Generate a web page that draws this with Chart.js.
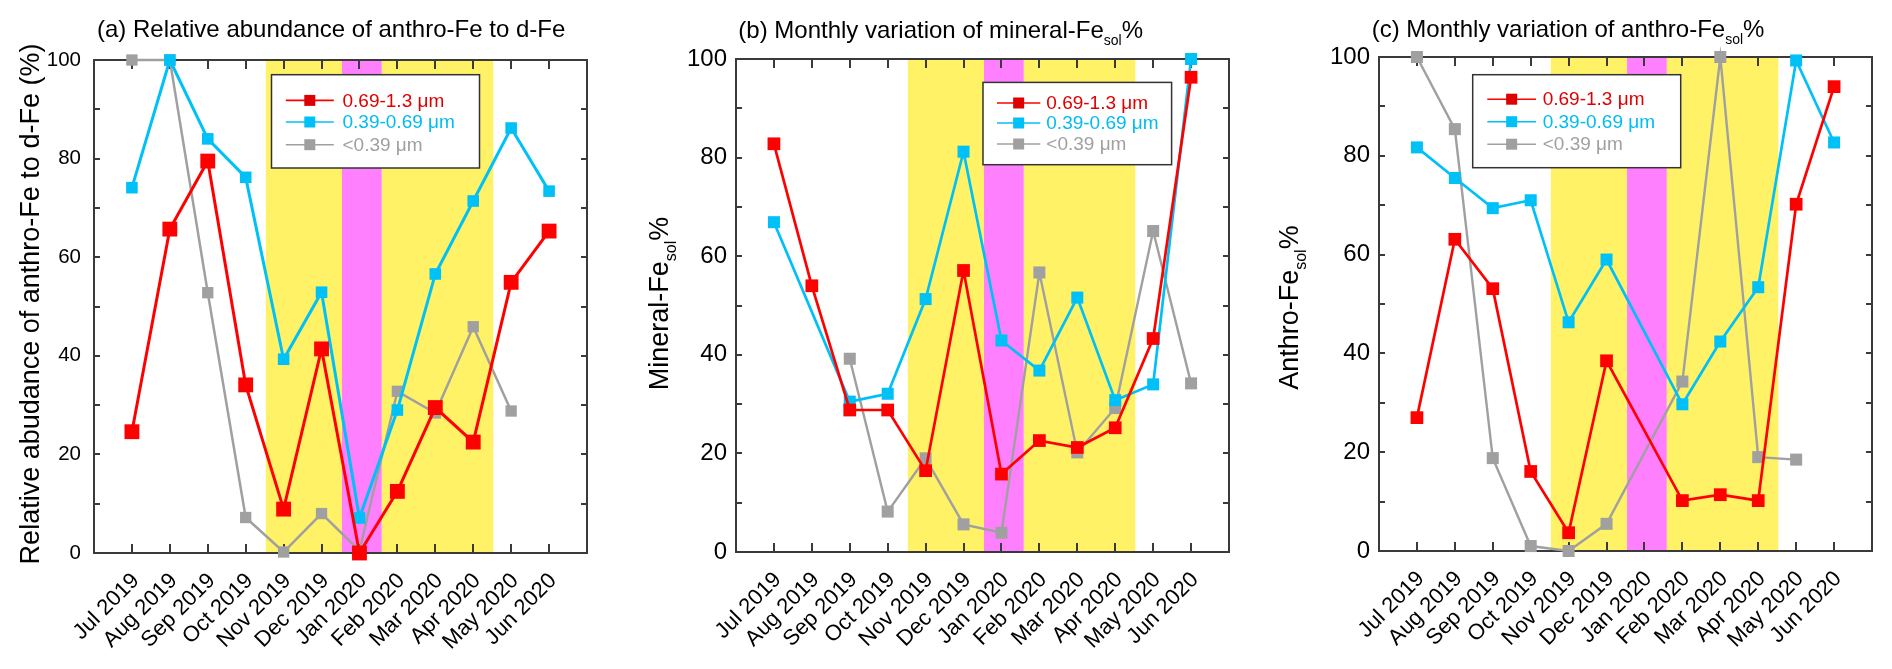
<!DOCTYPE html>
<html>
<head>
<meta charset="utf-8">
<script src="https://cdn.jsdelivr.net/npm/chart.js@4.4.1/dist/chart.umd.min.js"></script>
<style>
  html, body { margin: 0; padding: 0; background: #fff; }
  #wrap { position: relative; width: 1892px; height: 669px; }
  canvas { position: absolute; top: 0; }
</style>
</head>
<body>
<div id="wrap">
  <canvas id="chartA" width="631" height="669" style="left:0px"></canvas>
  <canvas id="chartB" width="631" height="669" style="left:631px"></canvas>
  <canvas id="chartC" width="630" height="669" style="left:1262px"></canvas>
</div>
<script>
const MONTHS = ["Jul 2019", "Aug 2019", "Sep 2019", "Oct 2019", "Nov 2019", "Dec 2019",
  "Jan 2020", "Feb 2020", "Mar 2020", "Apr 2020", "May 2020", "Jun 2020"];
const SIZE_LABELS = ["0.69-1.3 μm", "0.39-0.69 μm", "<0.39 μm"];
const Y_TICK_LABEL_STEP = 20;

// (a) relative abundance of anthro-Fe to d-Fe (%)
const A_COARSE = [24.6, 65.7, 79.5, 34.1, 8.9, 41.4, 0, 12.5, 29.5, 22.5, 54.9, 65.3];
const A_MID = [74.1, 100, 84.0, 76.2, 39.3, 52.9, 7.1, 29.0, 56.6, 71.4, 86.2, 73.4];
const A_FINE = [100, 100, 52.8, 7.2, 0.2, 8.0, 0.5, 32.8, 28.4, 45.9, 28.8, null];

// (b) mineral-Fe_sol %
const B_COARSE = [82.8, 54.0, 28.8, 28.8, 16.5, 57.1, 15.8, 22.6, 21.2, 25.2, 43.3, 96.3];
const B_MID = [66.9, null, 30.5, 32.1, 51.3, 81.2, 42.9, 36.8, 51.6, 30.8, 34.0, 100];
const B_FINE = [null, null, 39.2, 8.2, 19.0, 5.6, 3.9, 56.7, 20.2, 29.2, 65.1, 34.2];

// (c) anthro-Fe_sol %
const C_COARSE = [27.0, 63.1, 53.1, 16.1, 3.7, 38.5, null, 10.2, 11.4, 10.2, 70.2, 94.0];
const C_MID = [81.7, 75.5, 69.4, 71.0, 46.3, 59.0, null, 29.7, 42.4, 53.4, 99.3, 82.7];
const C_FINE = [100, 85.4, 18.8, 1.0, 0, 5.5, null, 34.3, 100, 19.0, 18.5, null];

// shaded periods, in month-axis units (Jul 2019 = 1)
const BAND_EDGES = [4.53, 6.54, 7.59, 10.53];

const FONT = "'Liberation Sans', Arial, sans-serif";
const FRAME = "#3a3a3a";
const RED = "#ff0000", CYAN = "#00c0f8", GRAY = "#a0a0a0";
const YELLOW = "#fff266", MAGENTA = "#ff80ff";
const LEGEND_TEXT = ["#e00000", "#00bcf2", "#a0a0a0"];
const LEGEND_MARK = ["#dd0000", "#00c0f8", "#a0a0a0"];

function drawRich(ctx, parts, x, y, size, align) {
  const fontOf = (p) => `${p.sub ? Math.round(size * 0.6) : size}px ${FONT}`;
  let total = 0;
  parts.forEach((p) => { ctx.font = fontOf(p); total += ctx.measureText(p.t).width; });
  let cx = align === "center" ? x - total / 2 : x;
  parts.forEach((p) => {
    ctx.font = fontOf(p);
    ctx.fillText(p.t, cx, y + (p.sub ? size * 0.3 : 0));
    cx += ctx.measureText(p.t).width;
  });
}

const panelDecor = {
  id: "panelDecor",
  beforeDraw(chart, args, opts) {
    const { ctx, chartArea: { top, bottom }, scales: { x } } = chart;
    const colors = [YELLOW, MAGENTA, YELLOW];
    ctx.save();
    for (let i = 0; i < BAND_EDGES.length - 1; i++) {
      const x0 = x.getPixelForValue(BAND_EDGES[i]);
      const x1 = x.getPixelForValue(BAND_EDGES[i + 1]);
      ctx.fillStyle = colors[i];
      ctx.fillRect(x0, top, x1 - x0, bottom - top);
    }
    ctx.restore();
  },
  afterDraw(chart, args, opts) {
    const { ctx, chartArea: area } = chart;
    ctx.save();
    ctx.fillStyle = "#000";
    ctx.textBaseline = "alphabetic";
    // panel title
    drawRich(ctx, opts.title, opts.titleX, opts.titleY, 24, "left");
    // rotated y title
    ctx.save();
    ctx.translate(opts.yTitleX, opts.yTitleY);
    ctx.rotate(-Math.PI / 2);
    drawRich(ctx, opts.yTitle, 0, 0, 27, "center");
    ctx.restore();

    // legend box
    const lg = opts.legend;
    const bx = area.left + lg.x, by = area.top + lg.y;
    ctx.fillStyle = "#fff";
    ctx.fillRect(bx, by, lg.w, lg.h);
    ctx.strokeStyle = "#333";
    ctx.lineWidth = 1.5;
    ctx.strokeRect(bx, by, lg.w, lg.h);
    chart.data.datasets.forEach((ds, i) => {
      const ry = by + lg.rows[i];
      ctx.strokeStyle = ds.borderColor;
      ctx.lineWidth = 1.6;
      ctx.beginPath();
      ctx.moveTo(bx + lg.line0, ry);
      ctx.lineTo(bx + lg.line1, ry);
      ctx.stroke();
      ctx.fillStyle = LEGEND_MARK[i];
      const m = (lg.line0 + lg.line1) / 2;
      ctx.fillRect(bx + m - 5.5, ry - 5.5, 11, 11);
      ctx.fillStyle = LEGEND_TEXT[i];
      ctx.font = `19px ${FONT}`;
      ctx.textBaseline = "middle";
      ctx.fillText(ds.label, bx + lg.text, ry + 1);
    });
    ctx.restore();
  }
};

function xAxis(cfg, pos) {
  const bottom = pos === "bottom";
  return {
    type: "linear", position: pos, min: 0, max: MONTHS.length + 1,
    afterBuildTicks: (s) => { s.ticks = MONTHS.map((m, i) => ({ value: i + 1 })); },
    afterFit: (s) => { s.height = bottom ? cfg.xAxisHeight : 0; },
    grid: { drawOnChartArea: false, color: FRAME, lineWidth: 2, tickLength: -9 },
    border: { display: true, color: FRAME, width: 2 },
    ticks: bottom ? {
      autoSkip: false, minRotation: 45, maxRotation: 45,
      padding: cfg.xPad, labelOffset: cfg.xOffset, color: "#000",
      font: { family: FONT, size: cfg.xFont },
      callback: (v) => MONTHS[v - 1] ?? ""
    } : { display: false }
  };
}

function yAxis(cfg, pos) {
  const left = pos === "left";
  return {
    type: "linear", position: pos, min: 0, max: 100,
    afterFit: (s) => { s.width = left ? cfg.yAxisWidth : 0; },
    grid: { drawOnChartArea: false, color: FRAME, lineWidth: 2, tickLength: -6 },
    border: { display: true, color: FRAME, width: 2 },
    ticks: left ? {
      stepSize: 10, padding: cfg.yPad, color: "#000",
      font: { family: FONT, size: cfg.yFont },
      callback: (v) => (v % Y_TICK_LABEL_STEP === 0 ? String(v) : "")
    } : { stepSize: 10, display: false }
  };
}

function series(label, values, color, radius, width) {
  return {
    label, data: values.map((v, i) => ({ x: i + 1, y: v })),
    borderColor: color, backgroundColor: color,
    pointBackgroundColor: color, pointBorderWidth: 0,
    pointStyle: "rect", pointRadius: radius, borderWidth: width,
    spanGaps: true, clip: false, tension: 0
  };
}

function makePanel(id, cfg) {
  const canvas = document.getElementById(id);
  return new Chart(canvas, {
    type: "line",
    data: {
      datasets: [
        series(SIZE_LABELS[0], cfg.values[0], RED, cfg.radius[0], cfg.width[0]),
        series(SIZE_LABELS[1], cfg.values[1], CYAN, cfg.radius[1], cfg.width[1]),
        series(SIZE_LABELS[2], cfg.values[2], GRAY, cfg.radius[2], cfg.width[2])
      ]
    },
    options: {
      responsive: false,
      animation: false,
      layout: { padding: { left: 0, top: cfg.top, right: cfg.right, bottom: 0 } },
      scales: {
        x: xAxis(cfg, "bottom"),
        x2: xAxis(cfg, "top"),
        y: yAxis(cfg, "left"),
        y2: yAxis(cfg, "right")
      },
      plugins: {
        legend: { display: false },
        tooltip: { enabled: false },
        panelDecor: cfg.decor
      }
    },
    plugins: [panelDecor]
  });
}

makePanel("chartA", {
  values: [A_COARSE, A_MID, A_FINE],
  radius: [10.5, 8.2, 8], width: [3, 3, 2.5],
  top: 60, right: 44, xAxisHeight: 116, yAxisWidth: 94,
  xPad: 24, xOffset: 4, xFont: 22, yPad: 19, yFont: 20.5,
  decor: {
    title: [{ t: "(a) Relative abundance of anthro-Fe to d-Fe" }],
    titleX: 97, titleY: 37,
    yTitle: [{ t: "Relative abudance of anthro-Fe to d-Fe (%)" }],
    yTitleX: 39.3, yTitleY: 304,
    legend: { x: 177.5, y: 14.7, w: 208, h: 93.3, rows: [25.7, 47.3, 70], line0: 14.3, line1: 62.3, text: 71 }
  }
});

makePanel("chartB", {
  values: [B_COARSE, B_MID, B_FINE],
  radius: [9, 8.5, 8.5], width: [2.7, 2.7, 2.4],
  top: 59, right: 33, xAxisHeight: 117, yAxisWidth: 105,
  xPad: 24, xOffset: 4, xFont: 22, yPad: 15, yFont: 24,
  decor: {
    title: [{ t: "(b) Monthly variation of mineral-Fe" }, { t: "sol", sub: true }, { t: "%" }],
    titleX: 107.3, titleY: 37.5,
    yTitle: [{ t: "Mineral-Fe" }, { t: "sol", sub: true }, { t: "%" }],
    yTitleX: 37.1, yTitleY: 303.5,
    legend: { x: 247, y: 23.4, w: 188.6, h: 82.3, rows: [20.6, 40.6, 61.6], line0: 14, line1: 57.3, text: 63.3 }
  }
});

makePanel("chartC", {
  values: [C_COARSE, C_MID, C_FINE],
  radius: [9, 8.5, 8.5], width: [2.7, 2.7, 2.4],
  top: 57, right: 20, xAxisHeight: 118, yAxisWidth: 117,
  xPad: 24, xOffset: 4, xFont: 22, yPad: 15, yFont: 24,
  decor: {
    title: [{ t: "(c) Monthly variation of anthro-Fe" }, { t: "sol", sub: true }, { t: "%" }],
    titleX: 109.7, titleY: 37,
    yTitle: [{ t: "Anthro-Fe" }, { t: "sol", sub: true }, { t: "%" }],
    yTitleX: 36, yTitleY: 307.6,
    legend: { x: 93.7, y: 17.7, w: 208, h: 93, rows: [24.5, 47, 69.5], line0: 14.6, line1: 63.3, text: 70 }
  }
});
</script>
</body>
</html>
